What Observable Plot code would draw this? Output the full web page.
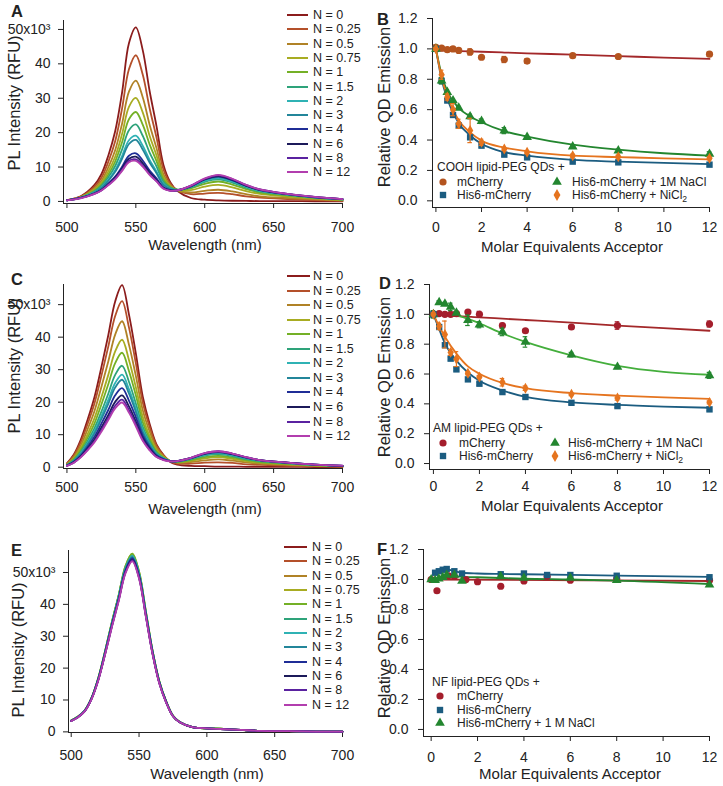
<!DOCTYPE html>
<html><head><meta charset="utf-8">
<script src="https://cdn.jsdelivr.net/npm/d3@7"></script>
<script src="https://cdn.jsdelivr.net/npm/@observablehq/plot@0.6"></script>
<style>
body{margin:0;background:#fff;}
#fig{position:relative;width:723px;height:786px;overflow:hidden;font-family:"Liberation Sans",Arial,sans-serif;color:#222;background:#fff;}
.abs{position:absolute;white-space:nowrap;line-height:1;}
.ctr{transform:translate(-50%,-50%);}
.rot{transform:translate(-50%,-50%) rotate(-90deg);}
sub{font-size:0.72em;vertical-align:-0.3em;line-height:0;}
</style></head><body><div id="fig"></div>
<script>
// ---------------- DATA ----------------
const nLabels = ["0","0.25","0.5","0.75","1","1.5","2","3","4","6","8","12"];
const nColors = ["#8b1c1c","#b4502a","#b08226","#a8ac22","#74b026","#2ea37a","#2fb2b4","#23869a","#1f2d96","#1c1a5a","#5a22a0","#b23eae"];

const xTicksWL = [500,550,600,650,700];
const yTicksPL = [0,10,20,30,40,50];
const xTicksEq = [0,2,4,6,8,10,12];
const yTicksRel = [0,0.2,0.4,0.6,0.8,1.0,1.2];

// Panel A spectra (x10^3 RFU)
const wavelengthsA = [500,510,520,525,530,535,540,545,550,555,560,565,570,575,580,590,600,610,620,630,640,660,680,700];
const intensityA = [
 [0.4,1.5,4.8,7.9,13.3,20.4,31.6,46.0,50.6,44.0,32.1,21.9,10.7,5.6,3.1,1.0,0.5,0.3,0.2,0.15,0.1,0.1,0.05,0.05],
 [0.4,1.4,4.3,6.9,11.5,17.5,27.0,38.4,42.5,36.9,27.1,18.6,9.4,5.2,3.3,2.1,2.3,2.5,2.1,1.5,1.1,0.7,0.4,0.2],
 [0.4,1.3,3.8,6.0,9.9,14.9,22.6,31.9,35.1,30.3,22.3,15.5,7.9,4.7,3.2,2.6,3.1,3.4,2.9,2.1,1.5,1.0,0.6,0.3],
 [0.4,1.2,3.5,5.4,8.7,13.0,19.6,27.5,30.1,25.9,19.1,13.4,7.1,4.4,3.3,3.3,4.3,4.8,4.1,3.0,2.2,1.4,0.8,0.4],
 [0.4,1.2,3.2,4.9,7.8,11.6,17.2,23.9,26.0,22.3,16.6,11.7,6.4,4.2,3.4,3.8,5.1,5.8,4.9,3.6,2.6,1.7,1.0,0.5],
 [0.3,1.1,2.9,4.5,7.0,10.3,15.1,20.7,22.4,19.1,14.2,10.2,5.7,4.0,3.4,4.1,5.7,6.4,5.5,4.0,2.9,1.9,1.1,0.6],
 [0.3,1.1,2.7,4.1,6.3,9.1,13.2,17.8,19.1,16.2,12.1,8.7,5.1,3.7,3.3,4.3,6.0,6.8,5.8,4.3,3.1,2.0,1.2,0.6],
 [0.3,1.0,2.6,3.9,6.0,8.6,12.4,16.7,17.9,15.1,11.3,8.2,4.8,3.6,3.3,4.4,6.3,7.1,6.1,4.5,3.3,2.1,1.2,0.6],
 [0.3,1.0,2.3,3.4,5.2,7.2,10.1,13.3,14.0,11.9,9.0,6.7,4.1,3.3,3.2,4.4,6.4,7.3,6.2,4.6,3.3,2.1,1.2,0.7],
 [0.3,1.0,2.3,3.3,5.0,6.9,9.6,12.4,13.0,11.1,8.4,6.2,3.9,3.2,3.2,4.5,6.5,7.4,6.3,4.6,3.4,2.1,1.3,0.7],
 [0.3,1.0,2.2,3.2,4.8,6.6,9.1,11.8,12.2,10.4,7.9,5.9,3.8,3.1,3.2,4.6,6.6,7.6,6.5,4.8,3.5,2.2,1.3,0.7],
 [0.3,0.9,2.2,3.2,4.7,6.4,8.9,11.4,11.8,10.1,7.7,5.8,3.7,3.1,3.2,4.6,6.7,7.7,6.6,4.8,3.5,2.2,1.3,0.7]
];

// Panels C and E spectra (x10^3 RFU)
const wavelengthsCE = [500,505,510,515,520,525,530,535,540,545,550,555,560,565,570,575,580,590,600,610,620,630,640,660,680,700];
const intensityC = [
 [1.2,3.9,8.4,14.6,21.6,30.8,40.6,51.0,56.0,47.0,35.0,21.8,13.4,7.0,3.8,1.6,0.8,0.4,0.3,0.2,0.2,0.1,0.1,0.1,0.05,0.05],
 [1.1,3.6,7.7,13.3,19.7,28.1,37.1,46.5,51.1,43.0,32.0,20.0,12.4,6.6,3.7,1.8,1.1,1.1,1.4,1.5,1.3,0.9,0.7,0.4,0.3,0.2],
 [0.9,3.1,6.7,11.7,17.3,24.7,32.5,40.8,44.9,37.7,28.1,17.6,11.0,5.9,3.4,1.9,1.4,1.6,2.1,2.4,2.0,1.5,1.1,0.7,0.4,0.2],
 [0.8,2.7,5.9,10.2,15.1,21.5,28.4,35.6,39.2,33.0,24.6,15.5,9.6,5.3,3.2,1.9,1.5,2.0,2.7,3.1,2.6,1.9,1.4,0.9,0.5,0.3],
 [0.7,2.5,5.3,9.1,13.5,19.3,25.5,32.0,35.2,29.6,22.1,13.9,8.7,4.8,3.0,1.9,1.6,2.2,3.1,3.5,3.0,2.2,1.6,1.0,0.6,0.3],
 [0.7,2.2,4.7,8.1,12.0,17.1,22.6,28.4,31.2,26.3,19.6,12.4,7.8,4.4,2.8,1.9,1.7,2.5,3.6,4.0,3.4,2.5,1.9,1.2,0.7,0.4],
 [0.6,2.0,4.3,7.4,11.0,15.7,20.7,25.9,28.5,24.0,18.0,11.4,7.2,4.1,2.7,1.9,1.8,2.6,3.8,4.3,3.7,2.7,2.0,1.3,0.7,0.4],
 [0.6,1.9,4.0,7.0,10.4,14.8,19.5,24.5,26.9,22.7,17.0,10.8,6.8,3.9,2.6,1.9,1.8,2.7,4.0,4.5,3.9,2.8,2.1,1.3,0.8,0.4],
 [0.5,1.7,3.6,6.3,9.4,13.4,17.6,22.1,24.3,20.5,15.4,9.8,6.2,3.6,2.5,1.9,1.9,2.8,4.1,4.7,4.0,3.0,2.2,1.4,0.8,0.4],
 [0.5,1.5,3.3,5.7,8.5,12.2,16.0,20.1,22.1,18.7,14.0,8.9,5.7,3.4,2.3,1.8,1.9,2.9,4.2,4.8,4.1,3.0,2.2,1.4,0.8,0.4],
 [0.4,1.4,3.1,5.4,8.0,11.4,15.1,18.9,20.8,17.6,13.2,8.4,5.4,3.2,2.3,1.8,1.9,2.9,4.3,4.9,4.2,3.1,2.2,1.4,0.8,0.5],
 [0.4,1.4,3.0,5.2,7.7,10.9,14.5,18.1,19.9,16.8,12.6,8.1,5.2,3.1,2.2,1.8,1.9,2.9,4.3,4.9,4.2,3.1,2.2,1.4,0.8,0.5]
];
const intensityE = [
 [3.5,4.7,6.6,10.5,16.5,24.8,33.6,41.8,50.6,54.5,49.0,36.9,24.8,15.4,9.4,5.0,3.0,1.4,1.1,0.9,0.7,0.5,0.3,0.2,0.1,0.1],
 [3.5,4.7,6.7,10.5,16.7,25.0,33.9,42.2,51.1,54.9,49.4,37.2,25.0,15.5,9.4,5.0,3.1,1.4,1.1,0.9,0.7,0.5,0.3,0.2,0.1,0.1],
 [3.5,4.8,6.7,10.6,16.8,25.2,34.2,42.6,51.5,55.4,49.8,37.5,25.2,15.7,9.5,5.0,3.1,1.4,1.1,1.0,0.7,0.5,0.3,0.2,0.1,0.1],
 [3.6,4.8,6.8,10.7,17.0,25.4,34.5,42.9,52.0,55.9,50.3,37.9,25.4,15.8,9.6,5.1,3.1,1.4,1.1,1.0,0.7,0.5,0.3,0.2,0.1,0.1],
 [3.6,4.8,6.8,10.7,17.0,25.4,34.5,42.9,52.0,55.9,50.3,37.9,25.4,15.8,9.6,5.1,3.1,1.4,1.1,1.0,0.7,0.5,0.3,0.2,0.1,0.1],
 [3.5,4.8,6.7,10.6,16.8,25.2,34.2,42.6,51.5,55.4,49.8,37.5,25.2,15.7,9.5,5.0,3.1,1.4,1.1,1.0,0.7,0.5,0.3,0.2,0.1,0.1],
 [3.5,4.7,6.7,10.6,16.7,25.1,34.0,42.4,51.3,55.2,49.7,37.4,25.1,15.6,9.5,5.0,3.1,1.4,1.1,0.9,0.7,0.5,0.3,0.2,0.1,0.1],
 [3.5,4.7,6.7,10.5,16.7,25.0,33.9,42.2,51.1,54.9,49.4,37.2,25.0,15.5,9.4,5.0,3.1,1.4,1.1,0.9,0.7,0.5,0.3,0.2,0.1,0.1],
 [3.5,4.7,6.6,10.5,16.5,24.8,33.6,41.8,50.6,54.5,49.0,36.9,24.8,15.4,9.4,5.0,3.0,1.4,1.1,0.9,0.7,0.5,0.3,0.2,0.1,0.1],
 [3.4,4.6,6.5,10.4,16.4,24.5,33.2,41.4,50.1,54.0,48.5,36.5,24.5,15.3,9.3,4.9,3.0,1.4,1.1,0.9,0.7,0.5,0.3,0.2,0.1,0.1],
 [3.4,4.6,6.5,10.3,16.3,24.4,33.1,41.3,50.0,53.8,48.3,36.4,24.4,15.2,9.2,4.9,3.0,1.4,1.1,0.9,0.7,0.5,0.3,0.2,0.1,0.1],
 [3.4,4.6,6.5,10.3,16.2,24.3,32.9,41.0,49.7,53.5,48.1,36.2,24.3,15.1,9.2,4.9,3.0,1.4,1.1,0.9,0.7,0.5,0.3,0.2,0.1,0.1]
];

// Titration colours
const colMCherryB = "#b4541f", colRedLine = "#a3282a", colMCherry = "#a41e2c";
const colHis6 = "#1b5c80", colNaCl = "#23862f", colNaClLineD = "#44ae3c", colNiCl2 = "#e5741f";

// Panel B (COOH)
const equivB = [0,0.25,0.5,0.75,1,1.5,2,3,4,6,8,12];
const mCherryB = [1.01,1.005,0.995,1.0,0.99,0.98,0.945,0.93,0.92,0.955,0.95,0.965];
const mCherryBErr = [0.015,0.01,0.01,0.015,0.01,0.02,0.01,0.02,0.015,0.01,0.01,0.015];
const his6B = [1.0,0.79,0.66,0.565,0.495,0.418,0.363,0.304,0.286,0.258,0.253,0.238];
const his6BErr = [0.01,0.02,0.01,0.01,0.01,0.01,0.01,0.01,0.01,0.01,0.01,0.01];
const naclB = [1.0,0.79,0.715,0.66,0.612,0.555,0.524,0.462,0.419,0.357,0.33,0.308];
const naclBErr = [0.01,0.02,0.015,0.01,0.01,0.015,0.015,0.02,0.01,0.01,0.01,0.015];
const niclB = [1.0,0.83,0.683,0.60,0.507,0.463,0.385,0.341,0.32,0.297,0.29,0.28];
const niclBErr = [0.01,0.03,0.02,0.04,0.03,0.08,0.02,0.01,0.01,0.01,0.01,0.01];
const fitXB = [0,0.25,0.5,1,1.5,2,3,4,6,8,10,12];
const mCherryFitB = [0.99,0.989,0.988,0.985,0.983,0.981,0.976,0.971,0.962,0.952,0.943,0.934];
const his6FitB = [1.0,0.8,0.67,0.51,0.43,0.375,0.32,0.297,0.269,0.258,0.25,0.242];
const naclFitB = [1.0,0.83,0.72,0.612,0.555,0.517,0.458,0.423,0.37,0.337,0.313,0.297];
const niclFitB = [1.0,0.81,0.69,0.53,0.45,0.396,0.35,0.326,0.297,0.288,0.28,0.272];

// Panel D (AM)
const equivD = [0,0.25,0.5,0.75,1,1.5,2,3,4,6,8,12];
const mCherryD = [1.0,1.005,1.0,1.0,1.005,1.015,1.0,0.925,0.89,0.915,0.925,0.935];
const mCherryDErr = [0.01,0.01,0.01,0.01,0.01,0.01,0.02,0.015,0.01,0.01,0.025,0.02];
const naclD = [1.0,1.08,1.07,1.05,1.01,0.96,0.93,0.882,0.815,0.73,0.647,0.591];
const naclDErr = [0.025,0.01,0.01,0.025,0.01,0.035,0.02,0.025,0.035,0.015,0.01,0.02];
const his6D = [1.0,0.915,0.793,0.703,0.631,0.564,0.535,0.479,0.446,0.407,0.385,0.363];
const his6DErr = [0.02,0.01,0.01,0.01,0.01,0.01,0.01,0.01,0.01,0.01,0.01,0.01];
const niclD = [1.0,0.92,0.865,0.745,0.70,0.605,0.58,0.545,0.505,0.465,0.44,0.41];
const niclDErr = [0.01,0.02,0.09,0.02,0.05,0.01,0.01,0.025,0.015,0.01,0.015,0.01];
const fitXD = [0,0.25,0.5,1,1.5,2,3,4,6,8,10,12];
const mCherryFitD = [0.998,0.996,0.993,0.989,0.984,0.98,0.971,0.962,0.944,0.925,0.907,0.89];
const naclFitD = [1.0,1.0,0.999,0.993,0.97,0.94,0.872,0.815,0.725,0.655,0.615,0.595];
const his6FitD = [1.0,0.9,0.805,0.69,0.61,0.555,0.49,0.447,0.41,0.393,0.382,0.374];
const niclFitD = [1.0,0.92,0.85,0.737,0.651,0.602,0.54,0.505,0.472,0.455,0.443,0.434];

// Panel F (NF)
const mCherryFx = [0,0.25,0.75,1,1.5,2,3,4,5,6,8,12];
const mCherryF = [1.0,0.925,1.025,1.02,1.0,0.985,0.955,0.99,1.02,0.995,1.005,0.995];
const his6Fx = [0.17,0.33,0.5,0.67,1,1.33,3,4,5,6,8,12];
const his6F = [1.045,1.055,1.065,1.07,1.055,1.04,1.035,1.04,1.03,1.03,1.025,1.015];
const naclFx = [0,0.17,0.33,0.5,0.67,1,1.33,3,4,6,8,12];
const naclF = [1.0,0.995,1.005,1.015,1.03,1.03,0.99,1.02,1.01,1.01,0.995,0.965];
const mCherryFitFx = [0,12];
const mCherryFitF = [1.0,0.99];
const his6FitFx = [0.17,0.33,0.5,0.67,1,1.33,2,3,4,6,8,12];
const his6FitF = [1.04,1.052,1.062,1.068,1.056,1.045,1.04,1.037,1.035,1.031,1.026,1.017];
const naclFitFx = [0,0.17,0.33,0.5,0.67,1,1.33,2,3,4,6,8,12];
const naclFitF = [1.0,1.005,1.012,1.02,1.025,1.022,1.018,1.015,1.01,1.005,1.0,0.993,0.97];

// ---------------- DRAWING ----------------
const fig = document.getElementById("fig");
const FONT = "'Liberation Sans', Arial, sans-serif";
const baseStyle = {fontFamily: FONT, fontSize: "14px", color: "#222", background: "transparent", overflow: "visible"};

function place(el, left, top) {
  el.style.position = "absolute";
  el.style.left = left + "px";
  el.style.top = top + "px";
  fig.appendChild(el);
}
function text(html, x, y, cls, size, bold) {
  const d = document.createElement("div");
  d.className = "abs " + (cls || "");
  d.innerHTML = html;
  d.style.left = x + "px"; d.style.top = y + "px";
  d.style.fontSize = size + "px";
  if (bold) d.style.fontWeight = "bold";
  fig.appendChild(d);
  return d;
}

function spectraPlot(c) {
  const rows = nLabels.flatMap((n, i) => c.wl.map((w, j) => ({n, w, v: c.data[i][j]})));
  const svg = Plot.plot({
    width: c.w, height: c.h,
    marginLeft: c.ml, marginRight: c.mr, marginTop: c.mt, marginBottom: c.mb,
    style: baseStyle,
    x: {domain: c.xd, ticks: xTicksWL, tickSize: 5, tickPadding: c.xpad, line: true, label: null},
    y: {domain: c.yd, ticks: yTicksPL, tickSize: 5, tickPadding: 8, line: true, label: null,
        tickFormat: d => d === 50 ? "50x10\u00B3" : String(d)},
    color: {domain: nLabels, range: nColors},
    marks: [
      Plot.line(rows, {x: "w", y: "v", z: "n", stroke: "n", strokeWidth: 1.8, curve: "catmull-rom"})
    ]
  });
  place(svg, c.left, c.top);
  // legend
  nLabels.forEach((n, i) => {
    const y = c.lg.y0 + i * c.lg.dy;
    const ln = document.createElement("div");
    ln.className = "abs";
    ln.style.left = c.lg.x0 + "px"; ln.style.top = (y - 1) + "px";
    ln.style.width = (c.lg.x1 - c.lg.x0) + "px"; ln.style.height = "2px";
    ln.style.background = nColors[i];
    fig.appendChild(ln);
    text("N = " + n, c.lg.tx, y, "", 12.5).style.transform = "translateY(-50%)";
  });
}

function titrationPlot(c) {
  const marks = [];
  for (const s of c.series) {
    if (s.fitX) marks.push(Plot.line(s.fitX.map((x, i) => ({x, y: s.fitY[i]})),
      {x: "x", y: "y", stroke: s.line, strokeWidth: 1.8, curve: "monotone-x"}));
  }
  for (const s of c.series) {
    const pts = s.x.map((x, i) => ({x, y: s.y[i], e: s.err ? s.err[i] : 0}));
    if (s.err) {
      marks.push(Plot.ruleX(pts, {x: "x", y1: d => d.y - d.e, y2: d => d.y + d.e, stroke: s.color, strokeWidth: 1.2}));
      marks.push(Plot.ruleY(pts, {y: d => d.y + d.e, x1: d => d.x - 0.1, x2: d => d.x + 0.1, stroke: s.color, strokeWidth: 1.2}));
      marks.push(Plot.ruleY(pts, {y: d => d.y - d.e, x1: d => d.x - 0.1, x2: d => d.x + 0.1, stroke: s.color, strokeWidth: 1.2}));
    }
    marks.push(Plot.dot(pts, {x: "x", y: "y", symbol: s.symbol, fill: s.color, r: s.r || 3.6}));
  }
  const svg = Plot.plot({
    width: c.w, height: c.h,
    marginLeft: c.ml, marginRight: c.mr, marginTop: c.mt, marginBottom: c.mb,
    style: baseStyle,
    x: {domain: c.xd, ticks: xTicksEq, tickSize: 5, tickPadding: c.xpad, line: true, label: null},
    y: {domain: c.yd, ticks: yTicksRel, tickSize: 5, tickPadding: 10, line: true, label: null, tickFormat: d3.format(".1f")},
    marks
  });
  place(svg, c.left, c.top);
}

function legendMarker(symbolName, color, cx, cy) {
  const sym = {circle: d3.symbolCircle, square: d3.symbolSquare, triangle: d3.symbolTriangle, diamond: d3.symbolDiamond}[symbolName];
  const ns = "http://www.w3.org/2000/svg";
  const s = document.createElementNS(ns, "svg");
  s.setAttribute("width", 14); s.setAttribute("height", 14);
  const p = document.createElementNS(ns, "path");
  p.setAttribute("d", d3.symbol(sym, Math.PI * 3.6 * 3.6)());
  p.setAttribute("transform", "translate(7,7)");
  p.setAttribute("fill", color);
  s.appendChild(p);
  place(s, cx - 7, cy - 7);
}

// Panel A
spectraPlot({left: 0, top: 0, w: 360, h: 258, ml: 63, mr: 18, mt: 20, mb: 55,
  xd: [497.5, 700], yd: [-0.6, 52.6], xpad: 14, wl: wavelengthsA, data: intensityA,
  lg: {x0: 287, x1: 308, tx: 313, y0: 15, dy: 14.3}});
// Panel C
spectraPlot({left: 0, top: 260, w: 360, h: 258, ml: 63, mr: 18, mt: 24, mb: 50,
  xd: [497.5, 700], yd: [-0.4, 56.2], xpad: 9, wl: wavelengthsCE, data: intensityC,
  lg: {x0: 287, x1: 310, tx: 313, y0: 276, dy: 14.55}});
// Panel E
spectraPlot({left: 0, top: 520, w: 360, h: 266, ml: 68, mr: 18, mt: 30, mb: 54,
  xd: [498, 700], yd: [-0.2, 56.9], xpad: 13, wl: wavelengthsCE, data: intensityE,
  lg: {x0: 284, x1: 307, tx: 312, y0: 547, dy: 14.34}});

// Panel B
titrationPlot({left: 360, top: 0, w: 363, h: 258, ml: 72, mr: 14, mt: 18, mb: 51,
  xd: [-0.15, 12], yd: [-0.044, 1.2], xpad: 10,
  series: [
    {x: equivB, y: mCherryB, err: mCherryBErr, color: colMCherryB, symbol: "circle", fitX: fitXB, fitY: mCherryFitB, line: colRedLine},
    {x: equivB, y: his6B, err: his6BErr, color: colHis6, symbol: "square", fitX: fitXB, fitY: his6FitB, line: colHis6},
    {x: equivB, y: naclB, err: naclBErr, color: colNaCl, symbol: "triangle", fitX: fitXB, fitY: naclFitB, line: colNaCl},
    {x: equivB, y: niclB, err: niclBErr, color: colNiCl2, symbol: "diamond", r: 3.3, fitX: fitXB, fitY: niclFitB, line: colNiCl2}
  ]});
// Panel D
titrationPlot({left: 360, top: 260, w: 363, h: 258, ml: 69, mr: 14, mt: 24, mb: 49,
  xd: [-0.17, 12], yd: [-0.04, 1.2], xpad: 7,
  series: [
    {x: equivD, y: mCherryD, err: mCherryDErr, color: colMCherry, symbol: "circle", fitX: fitXD, fitY: mCherryFitD, line: colRedLine},
    {x: equivD, y: naclD, err: naclDErr, color: colNaCl, symbol: "triangle", fitX: fitXD, fitY: naclFitD, line: colNaClLineD},
    {x: equivD, y: his6D, err: his6DErr, color: colHis6, symbol: "square", fitX: fitXD, fitY: his6FitD, line: colHis6},
    {x: equivD, y: niclD, err: niclDErr, color: colNiCl2, symbol: "diamond", r: 3.3, fitX: fitXD, fitY: niclFitD, line: colNiCl2}
  ]});
// Panel F
titrationPlot({left: 360, top: 520, w: 363, h: 266, ml: 63, mr: 14, mt: 29, mb: 50,
  xd: [-0.33, 12], yd: [-0.047, 1.2], xpad: 10.5,
  series: [
    {x: mCherryFx, y: mCherryF, color: colMCherry, symbol: "circle", fitX: mCherryFitFx, fitY: mCherryFitF, line: colRedLine},
    {x: his6Fx, y: his6F, color: colHis6, symbol: "square", fitX: his6FitFx, fitY: his6FitF, line: colHis6},
    {x: naclFx, y: naclF, color: colNaCl, symbol: "triangle", fitX: naclFitFx, fitY: naclFitF, line: colNaCl}
  ]});

// Legends for B, D, F
function titrLegend(header, hx, hy, rows) {
  text(header, hx, hy, "", 12).style.transform = "translateY(-50%)";
  for (const r of rows) {
    legendMarker(r.sym, r.color, r.mx, r.y);
    text(r.label, r.tx, r.y, "", 12).style.transform = "translateY(-50%)";
  }
}
titrLegend("COOH lipid-PEG QDs +", 437, 167, [
  {sym: "circle", color: colMCherryB, mx: 443, tx: 457, y: 182, label: "mCherry"},
  {sym: "triangle", color: colNaCl, mx: 557, tx: 572, y: 182, label: "His6-mCherry + 1M NaCl"},
  {sym: "square", color: colHis6, mx: 443, tx: 457, y: 195, label: "His6-mCherry"},
  {sym: "diamond", color: colNiCl2, mx: 557, tx: 572, y: 195, label: "His6-mCherry + NiCl<sub>2</sub>"}
]);
titrLegend("AM lipid-PEG QDs +", 433, 428, [
  {sym: "circle", color: colMCherry, mx: 443, tx: 459, y: 443, label: "mCherry"},
  {sym: "triangle", color: colNaCl, mx: 555, tx: 568, y: 443, label: "His6-mCherry + 1M NaCl"},
  {sym: "square", color: colHis6, mx: 443, tx: 459, y: 456, label: "His6-mCherry"},
  {sym: "diamond", color: colNiCl2, mx: 555, tx: 568, y: 456, label: "His6-mCherry + NiCl<sub>2</sub>"}
]);
titrLegend("NF lipid-PEG QDs +", 432, 682, [
  {sym: "circle", color: colMCherry, mx: 440, tx: 457, y: 696, label: "mCherry"},
  {sym: "square", color: colHis6, mx: 440, tx: 457, y: 710, label: "His6-mCherry"},
  {sym: "triangle", color: colNaCl, mx: 440, tx: 457, y: 723, label: "His6-mCherry + 1 M NaCl"}
]);

// Axis titles
const xTitleWL = "Wavelength (nm)", yTitlePL = "PL Intensity (RFU)";
const xTitleEq = "Molar Equivalents Acceptor", yTitleRel = "Relative QD Emission";
text(xTitleWL, 205, 244, "ctr", 15);
text(xTitleWL, 205, 508, "ctr", 15);
text(xTitleWL, 207, 773, "ctr", 15);
text(xTitleEq, 572, 246, "ctr", 15);
text(xTitleEq, 572, 505, "ctr", 15);
text(xTitleEq, 570, 773, "ctr", 15);
text(yTitlePL, 14, 103, "rot", 16.5);
text(yTitlePL, 14, 366, "rot", 16.5);
text(yTitlePL, 18, 650, "rot", 16.5);
text(yTitleRel, 384, 107, "rot", 16.5);
text(yTitleRel, 384, 377, "rot", 16.5);
text(yTitleRel, 384, 638, "rot", 16.5);

// Panel letters
const panelLetters = ["A","B","C","D","E","F"];
const letterPos = [[11,3],[377,11],[11,271],[379,275],[11,542],[377,541]];
panelLetters.forEach((l, i) => text(l, letterPos[i][0], letterPos[i][1], "", 16.5, true));
</script></body></html>
